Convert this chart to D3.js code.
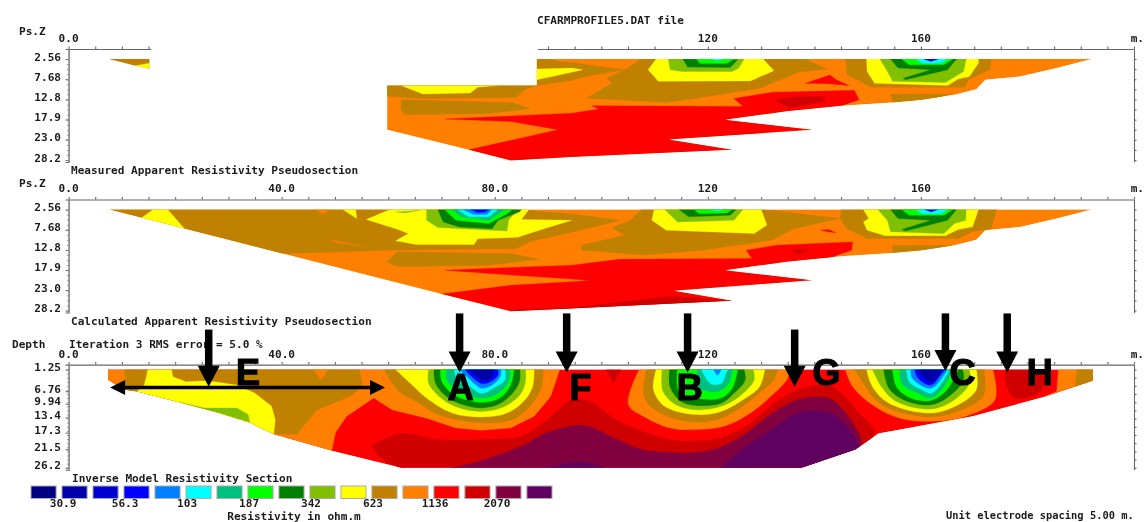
<!DOCTYPE html>
<html><head><meta charset="utf-8">
<style>html,body{margin:0;background:#fff}svg{display:block;filter:blur(.45px)}
text{font-family:"DejaVu Sans Mono",monospace;font-weight:bold;font-size:11.1px;fill:#1c1c1c}
.big{font-family:"Liberation Sans",Arial,sans-serif;font-size:36px;fill:#000;stroke:#000;stroke-width:1.2}</style>
<script src="https://cdn.jsdelivr.net/npm/d3@7"></script></head><body><svg id="c" width="1144" height="522"></svg>
<script>
// Resistivity bands (colour index = position in this list)
const bandColors=["#000080","#0000a8","#0000d0","#0000ff","#0080ff","#00ffff","#00c080","#00ff00","#008000","#80c000","#ffff00","#c08000","#ff8000","#ff0000","#d00000","#800040","#600060"];
const NAVY=1,BLUE=3,SKY=4,CYAN=5,TEAL=6,LIME=7,GREEN=8,OLIVE=9,YELLOW=10,BROWN=11,ORANGE=12,RED=13,DKRED=14,MAROON=15,PURPLE=16;
const legendLabels=["30.9","56.3","103","187","342","623","1136","2070"];
const xTickLabels=[[0,"0.0"],[40,"40.0"],[80,"80.0"],[120,"120"],[160,"160"],[200,"m."]];
const pseudoDepths=[2.56,7.68,12.8,17.9,23.0,28.2];
const pseudoDepthLabels=["2.56","7.68","12.8","17.9","23.0","28.2"];
const modelDepths=[1.25,6.76,9.94,13.4,17.3,21.5,26.2];
const modelDepthLabels=["1.25","6.76","9.94","13.4","17.3","21.5","26.2"];

// Measured pseudosection: contours as [distance m, pseudo depth]
const m1Stub=[[7.5,2.56],[15.2,2.56],[15.2,5.1],[12.5,4.25]];
const m1StubYellow=[[12.5,4.25],[15.2,3.6],[15.2,5.1]];
const m1Outline=[[59.8,9.3],[87.9,9.3],[87.9,2.56],[192,2.56],[185.5,4.85],[178.6,7],[172.1,7.8],[170.4,10.2],[166.3,11.6],[160.2,12.9],[154.7,13.6],[145.1,14.4],[134.8,15.8],[123.2,18],[139.6,20.5],[112.6,23],[124.6,25.6],[94.45,27.4],[83,28.3],[75.1,25.6],[59.8,20.5]];
const m1BrownTop=[[87.9,2.56],[90.5,2.56],[91.9,3.2],[94.45,3.4],[104.4,5.3],[96.5,7.2],[94.45,8],[87.9,9.3],[85.7,10.3],[84,12.3],[66.5,12.6],[59.8,12],[59.8,9.3]];
const m1YellowLeft=[[62.4,9.3],[66.5,11.4],[75.4,11.2],[76.8,9.7],[80.6,9.3]];
const m1YellowTip=[[87.9,5.1],[94.45,4.85],[96.5,5.3],[94.45,5.9],[87.9,7.8]];
const m1BrownLow=[[62.4,12.9],[62.4,15.4],[63.1,16.7],[78.9,16.4],[86.7,15.2],[83.3,13.6]];
const m1BrownB=[[107.5,2.56],[138.3,2.56],[142.4,5.1],[136.9,5.9],[130,9.9],[118.1,12.5],[112.2,13.6],[102.7,12.9],[97.2,12.5],[102,8.7],[101,7.4],[104.4,5.3]];
const m1YellowB=[[110.3,2.56],[108.8,5.3],[110.7,8.2],[128,8.1],[132.4,5.5],[130.4,2.56]];
const m1OliveB=[[112.6,2.56],[112.9,5.3],[115,5.7],[124.6,5.7],[125.8,4.8],[126.8,2.56]];
const m1GreenB=[[115.3,2.56],[116.2,4.6],[124.2,4.7],[125.6,2.7]];
const m1LimeB=[[117.9,2.56],[118.5,3.7],[123.5,3.7],[124.9,2.56]];
const m1CyanB=[[120.8,2.56],[121.8,3],[122.8,2.56]];
const m1RedSpot=[[138.3,8.7],[142.9,6.6],[144.1,7.8],[146.5,9.3],[142.4,8.8]];
const m1BrownC=[[145.8,2.56],[173.2,2.56],[173,5.3],[169.1,7.6],[168.2,9.7],[150.6,9.7],[146.1,6.5]];
const m1YellowC=[[149.8,2.56],[149.9,5.7],[151.3,8.7],[165,9.3],[167,7.6],[169.1,7],[170.8,3.6],[170.8,2.56]];
const m1OliveC=[[152.3,2.56],[153.7,5.7],[154.7,8.2],[164.6,8.5],[168,5.7],[168.5,2.56]];
const m1GreenC=[[154.3,2.56],[155.7,4.8],[161.9,5.3],[156.7,7.4],[157.1,7.8],[165,5.3],[166.7,2.56]];
const m1LimeC=[[156.4,2.56],[157.8,4],[164.3,4],[166,2.56]];
const m1CyanC=[[159.1,2.56],[160.2,3.6],[163.9,3.6],[165,2.56]];
const m1BlueC=[[160.5,2.56],[161.9,3.15],[163.2,2.56]];
const m1BrownEnd=[[154.3,11.4],[165.6,11.4],[161.9,12.9],[154.7,13.6]];
const m1Red=[[70.6,17.8],[94.45,16.3],[99.6,15.25],[98.2,14.4],[126.6,14.6],[124.9,12.6],[132.1,11],[147.5,10.5],[148.4,12.9],[145.1,14.4],[134.8,15.8],[123.2,18],[139.6,20.5],[112.6,23],[124.6,25.6],[94.45,27.4],[83,28.3],[75.1,25.6],[91.9,20.5],[83,18.4]];
const m1DkRed=[[132.4,12.9],[135.5,15],[142,13.3],[141.7,12],[135.5,12.3]];
const measuredLayers=[[ORANGE,m1Outline],[BROWN,m1BrownTop],[YELLOW,m1YellowLeft],[YELLOW,m1YellowTip],[BROWN,m1BrownLow],[BROWN,m1BrownB],[YELLOW,m1YellowB],[OLIVE,m1OliveB],[GREEN,m1GreenB],[LIME,m1LimeB],[CYAN,m1CyanB],[RED,m1RedSpot],[BROWN,m1BrownC],[YELLOW,m1YellowC],[OLIVE,m1OliveC],[GREEN,m1GreenC],[LIME,m1LimeC],[CYAN,m1CyanC],[BLUE,m1BlueC],[BROWN,m1BrownEnd],[RED,m1Red],[DKRED,m1DkRed]];

// Calculated pseudosection
const c2Outline=[[7.7,2.56],[192,2.56],[185.5,4.85],[178.6,7],[172.1,7.8],[170.4,10.2],[166.3,11.6],[160.2,12.9],[154.7,13.6],[145.1,14.4],[134.8,15.8],[123.2,18],[139.6,20.5],[113.6,23.2],[124.6,25.7],[94.45,27.7],[83,28.4],[70,24]];
const c2Brown=[[7.7,2.56],[85,2.56],[89,3.1],[94.45,3.6],[103.7,5.3],[94.45,8.3],[86.4,10.8],[84,12.5],[60,12.9],[44.6,13.6],[39.8,13.7]];
const c2YellowEdge=[[13.5,4.85],[15.9,2.56],[18.6,2.56],[22,7.8]];
const c2YellowTick=[[51.5,2.56],[53.9,2.56],[54.1,4.85]];
const c2OrangeA=[[46.3,2.56],[47.7,3.6],[49.1,2.56]];
const c2OrangeB=[[49.4,10.3],[55.6,11.9],[49.8,10.8]];
const c2YellowA=[[60,2.7],[61,2.56],[86.4,2.56],[85,5.1],[94.45,5.3],[89.1,7.5],[84.3,9.6],[76.8,10],[76.1,11.4],[65.2,11.4],[61.4,10.5],[63.8,8.65],[61.4,7.4],[55.9,5.1]];
const c2OliveSpeck=[[61.4,3.15],[63.1,3.4],[65.9,2.7]];
const c2OliveA=[[67.2,2.56],[67.2,5.3],[69.3,7.1],[82.3,8],[82.6,5.3],[84.3,2.56]];
const c2GreenA=[[69.3,2.56],[70.3,5.7],[73.4,7],[79.5,7.4],[80.6,5.3],[84.7,3.1],[85,2.56]];
const c2LimeA=[[70.6,2.56],[72.7,5.3],[78.9,6.1],[82.3,3.6],[83.3,2.56]];
const c2TealA=[[72,2.56],[73.7,4.4],[78.9,5.3],[81.9,2.56]];
const c2CyanA=[[73,2.56],[75.1,4.4],[78.9,4.4],[80.6,2.56]];
const c2SkyA=[[74,2.56],[76.1,3.8],[78.5,3.8],[79.5,2.56]];
const c2BlueA=[[75.4,2.56],[76.8,3.3],[78.2,3.15],[78.9,2.56]];
const c2BrownLow=[[59.7,15.8],[61.7,13.3],[83,13.7],[88.4,15.2],[78.9,16.7],[61.7,17.1]];
const c2BrownB=[[107.5,2.56],[130.4,2.56],[136.2,3.4],[144.8,4.85],[136.2,7.4],[132.1,10.3],[119.1,12.9],[108.1,14.1],[96.2,12.9],[96.2,11.6],[104.4,9.1],[102,7.2],[105.4,5.3]];
const c2YellowB=[[109.9,2.56],[109.5,5.3],[112.2,7.8],[128.7,8.65],[131.1,6.5],[130,2.56]];
const c2OliveB=[[111.9,2.56],[114.3,5.7],[124.9,5.3],[126.6,2.56]];
const c2GreenB=[[114.6,2.56],[116.4,4.4],[124.2,4],[125.3,2.56]];
const c2LimeB=[[117.4,2.56],[118.4,3.6],[123.5,3.4],[124.6,2.56]];
const c2CyanB=[[120.5,2.56],[121.8,2.9],[122.9,2.56]];
const c2BrownC=[[145.1,2.56],[174.2,2.56],[173.2,7.4],[169.7,8.2],[167,9.9],[149.9,9.9],[146.1,7.4],[144.8,4.85]];
const c2YellowC=[[149.2,2.56],[150.2,4.85],[149.2,5.7],[149.9,7.8],[153.3,9.2],[164.6,9.2],[167,7.6],[169.7,6.95],[170.8,2.56]];
const c2OliveC=[[151.9,2.56],[153.7,5.3],[154.3,8.2],[164.3,8.65],[166.3,6.1],[168.4,5.3],[168.5,2.56]];
const c2GreenC=[[154.3,2.56],[155.7,4.85],[161.9,5.3],[156.4,7.6],[157.1,8],[165,5.3],[166.7,2.56]];
const c2LimeC=[[156.4,2.56],[157.8,4],[164.3,4],[166,2.56]];
const c2CyanC=[[159.1,2.56],[160.2,3.6],[163.9,3.6],[165,2.56]];
const c2BlueC=[[160.7,2.56],[161.9,3.15],[163.2,2.56]];
const c2BrownEnd=[[154.7,11.6],[166,11.6],[162,12.8],[154.7,13.6]];
const c2Red=[[70.6,17.95],[94.45,16.7],[103.3,15.2],[128.3,15],[127.2,12.9],[132.8,11.6],[147.2,10.8],[147,12.9],[143.1,14.7],[134.8,15.8],[123.2,18],[139.6,20.5],[113.6,23.2],[124.6,25.7],[94.45,27.7],[83,28.4],[70,24],[83,21.8],[94.45,20.9],[97.7,20.6],[94.45,20.2],[83,19.2]];
const c2DkRedLow=[[94.45,27.5],[112.9,24.6],[124.6,25.7],[94.45,27.7],[83,28.4],[84.3,28]];
const c2RedSpot=[[141.2,7.8],[142.7,7.6],[144.1,8.5],[141.7,8]];
const c2DkRedSpot=[[135.5,12.9],[136.9,13.9],[139.3,12.6]];
const calculatedLayers=[[ORANGE,c2Outline],[BROWN,c2Brown],[YELLOW,c2YellowEdge],[YELLOW,c2YellowTick],[ORANGE,c2OrangeA],[ORANGE,c2OrangeB],[YELLOW,c2YellowA],[OLIVE,c2OliveSpeck],[OLIVE,c2OliveA],[GREEN,c2GreenA],[LIME,c2LimeA],[TEAL,c2TealA],[CYAN,c2CyanA],[SKY,c2SkyA],[BLUE,c2BlueA],[BROWN,c2BrownLow],[BROWN,c2BrownB],[YELLOW,c2YellowB],[OLIVE,c2OliveB],[GREEN,c2GreenB],[LIME,c2LimeB],[CYAN,c2CyanB],[BROWN,c2BrownC],[YELLOW,c2YellowC],[OLIVE,c2OliveC],[GREEN,c2GreenC],[LIME,c2LimeC],[CYAN,c2CyanC],[BLUE,c2BlueC],[BROWN,c2BrownEnd],[RED,c2Red],[DKRED,c2DkRedLow],[RED,c2RedSpot],[DKRED,c2DkRedSpot]];

// Inverse model section: contours as [distance m, depth m]
const s3Outline=[[7.4,1.25],[192.3,1.25],[192.3,4.1],[183.4,8.1],[169.7,13.1],[152,17.5],[147.8,21.5],[137.6,26.2],[62.4,26.2],[49.4,21.9],[38.5,17.7],[34,14.8],[28.2,12.3],[21.4,9.8],[12.8,6.85],[10.4,6.4],[7.4,3.9]];
const s3OrangeA=[[7.4,1.25],[92.2,1.25],[90.5,8.1],[87.4,13.1],[83,16.1],[77.5,16.7],[72.7,16.1],[67.2,13.6],[60.7,11.5],[57.3,8.5],[52.2,13.1],[50.1,17.3],[49.4,21.9],[38.5,17.7],[34,14.8],[28.2,12.3],[21.4,9.8],[12.8,6.85],[10.4,6.4],[7.4,3.9]];
const s3BrownLeft=[[10.4,1.25],[54.6,1.25],[55.2,5.6],[52.8,8.1],[46.7,11.5],[44.6,14.8],[42.9,17.7],[38.5,17.7],[34,14.8],[28.2,12.3],[21.4,9.8],[12.8,6.85],[10.4,6.4],[9,5],[10.7,3.9]];
const s3YellowLeft=[[14.9,1.25],[19.3,1.25],[19.6,3.1],[22,4.35],[26.1,4.1],[31.6,5.2],[35,7.3],[38.1,10.6],[38.8,14],[38.5,17.7],[34,14.8],[28.2,12.3],[21.4,9.8],[12.8,6.85],[14.2,5.2]];
const s3OliveLeft=[[21,9.6],[25.5,11],[31.6,11],[33.7,12.7],[34,14.6],[28.2,12.3]];
const s3OrangeTri=[[46,1.25],[47.4,3.9],[48.7,1.25]];
const s3DkRed=[[57,20.7],[62.1,17.5],[69.3,19],[77.5,19],[85,18.2],[89.8,14],[94.45,9],[97.9,9.4],[102.3,13.6],[106.8,16.5],[112.6,19],[117.7,19.4],[122.5,18.6],[127.3,15.6],[132.1,10.2],[136.9,6.4],[142.4,5.2],[145.1,7.3],[147.8,11.5],[151.3,17.3],[147.8,21.5],[137.6,26.2],[62.4,26.2],[58,23]];
const s3DkRedF=[[100.95,1.25],[102.3,4.8],[103.7,1.25]];
const s3Maroon=[[72,26.2],[77.5,24.4],[85,20.7],[89.8,17.3],[94.45,15.6],[97.5,15.6],[102.3,18.6],[107.5,21.5],[112.6,22.3],[117.7,22.3],[122.2,21.1],[127.3,17.3],[132.1,12.3],[136.9,8.9],[142.4,8.4],[145.1,11],[148.9,19.8],[147.8,21.5],[137.6,26.2]];
const s3Purple=[[122.5,26.2],[127.3,20.7],[132.1,16.5],[136.9,12.3],[142.4,12.1],[145.8,15.2],[148.2,20.2],[147.8,21.5],[137.6,26.2]];
const s3PurpleLow=[[89.8,26.2],[94.45,24.85],[97.2,24.85],[100.6,26.2]];
const s3BrownA=[[59.3,1.25],[61.7,6.4],[65.8,9.8],[69.3,12.7],[77.5,14.8],[83.6,13.8],[87.1,9.8],[88.8,5.6],[89.1,1.25]];
const s3YellowA=[[61.4,1.25],[64.5,5.2],[67.2,8.5],[72,12.3],[77.5,13.3],[82.3,12.3],[85.7,8.9],[87.1,5.6],[87.4,1.25]];
const s3OliveA=[[67.6,1.25],[67.6,4.8],[70.3,8.9],[73.4,11],[77.5,11.9],[81.6,10.8],[84.7,7.7],[85.7,4.8],[85.8,1.25]];
const s3GreenA=[[68.6,1.25],[68.9,4.8],[71.3,8.5],[74.1,10.2],[77.5,11],[80.9,9.95],[83.6,6.85],[84.7,3.9],[84.7,1.25]];
const s3LimeA=[[69.8,1.25],[70.1,4.35],[72.4,7.7],[77.5,9.6],[80.9,8.5],[83,5.2],[83.6,1.25]];
const s3TealA=[[71,1.25],[71,3.9],[73.4,6.85],[77.5,8.5],[80.6,7.3],[82.6,4.35],[82.8,1.25]];
const s3CyanA=[[72.4,1.25],[73,3.9],[75.4,5.6],[77.5,7.3],[80.2,5.6],[81.9,3.9],[81.9,1.25]];
const s3SkyA=[[73.4,1.25],[74.8,3.1],[77.5,6],[79.5,5.2],[81,3.1],[81.2,1.25]];
const s3BlueA=[[74.4,1.25],[75.4,2.7],[77.5,4.8],[79.2,4.35],[80.6,2.7],[80.6,1.25]];
const s3NavyA=[[75.1,1.25],[76.1,2.25],[77.5,3.9],[79.2,3.5],[79.9,1.25]];
const s3OrangeB=[[107.1,1.25],[105.1,10.2],[108.1,13.3],[112.9,16.1],[117.7,16.5],[123.2,15.6],[128,12.3],[132.1,7.7],[134.8,3.9],[135.5,1.25]];
const s3BrownB=[[108.5,1.25],[108.1,8.5],[111.6,12.7],[117.7,14.6],[122.5,13.6],[126.6,10.6],[130,6.85],[132.4,3.9],[133.1,1.25]];
const s3YellowB=[[110.3,1.25],[109.8,6.4],[111.9,10.6],[117.7,12.7],[122.5,11.9],[126.6,8.9],[129.7,5.6],[130.7,1.25]];
const s3OliveB=[[111.4,1.25],[111.6,6.85],[114,10.2],[117.7,11.5],[122.5,10.6],[125.9,8.1],[128.7,3.9],[128.5,1.25]];
const s3GreenB=[[112.8,1.25],[112.9,5.6],[115,9.4],[117.7,10.4],[122.5,9.8],[124.9,7.3],[127,3.9],[126.8,1.25]];
const s3LimeB=[[114.3,1.25],[114.6,6.85],[117.7,8.5],[122.5,8.5],[124.6,6],[125.6,1.25]];
const s3TealB=[[118.1,1.25],[118.1,5.6],[121.8,6.85],[123.9,4.8],[124.6,1.25]];
const s3CyanB=[[118.8,1.25],[120.5,4.8],[122.5,4.8],[123.5,1.85],[123.9,1.25]];
const s3SkyB=[[121.1,1.25],[121.8,2.7],[122.5,1.25]];
const s3OrangeC=[[145.8,1.25],[147.2,5.6],[151.3,10.6],[156,13.6],[162.2,14.4],[168.4,13.1],[173.9,8.9],[173.5,1.25]];
const s3BrownC=[[147.5,1.25],[149.2,4.8],[152.6,10.2],[161.5,13.3],[167.7,11.5],[171.8,7.7],[171.8,1.25]];
const s3YellowC=[[149.8,1.25],[150.9,5.6],[154,9.8],[161.9,12.3],[167,10.2],[170.4,6.4],[170.4,1.25]];
const s3OliveC=[[150.9,1.25],[152.6,5.6],[155.4,9.4],[161.9,11.3],[166.3,8.9],[169.1,4.8],[169.1,1.25]];
const s3GreenC=[[153,1.25],[154,6],[156.7,8.9],[161.9,10.2],[165.6,7.7],[168,3.9],[167.8,1.25]];
const s3LimeC=[[154.7,1.25],[155.4,5.6],[158.1,8.5],[161.9,9.1],[164.9,6.4],[167,1.25]];
const s3TealC=[[156.1,1.25],[156.4,4.8],[159.5,7.3],[161.9,8.5],[164.3,5.6],[166,1.25]];
const s3CyanC=[[157.3,1.25],[157.8,4.35],[160.2,6.4],[161.9,7.3],[164.3,3.9],[165.3,1.25]];
const s3SkyC=[[158.1,1.25],[158.4,3.5],[161.9,6],[164.3,2.7],[165,1.25]];
const s3BlueC=[[158.8,1.25],[159.5,3.5],[161.9,5.2],[163.9,2.25],[164.6,1.25]];
const s3NavyC=[[159.5,1.25],[160.2,2.7],[161.9,4.35],[163.6,2.25],[164.1,1.25]];
const s3DkRedH=[[175.9,1.25],[175.8,3.9],[177.6,8.5],[182.4,6.85],[183.1,3.9],[182.1,1.25]];
const s3OrangeEnd=[[185.8,1.25],[185.5,6.85],[183.4,8],[192.3,4.1],[192.3,1.25]];
const s3BrownEnd=[[189.3,1.25],[188.9,5.6],[192.3,4.1],[192.3,1.25]];
const sectionLayers=[[RED,s3Outline],[ORANGE,s3OrangeA],[BROWN,s3BrownLeft],[YELLOW,s3YellowLeft],[OLIVE,s3OliveLeft],[ORANGE,s3OrangeTri],[DKRED,s3DkRed,1],[DKRED,s3DkRedF],[MAROON,s3Maroon,1],[PURPLE,s3Purple,1],[PURPLE,s3PurpleLow],
[BROWN,s3BrownA,1],[YELLOW,s3YellowA,1],[OLIVE,s3OliveA,1],[GREEN,s3GreenA,1],[LIME,s3LimeA,1],[TEAL,s3TealA,1],[CYAN,s3CyanA,1],[SKY,s3SkyA,1],[BLUE,s3BlueA,1],[NAVY,s3NavyA,1],
[ORANGE,s3OrangeB,1],[BROWN,s3BrownB,1],[YELLOW,s3YellowB,1],[OLIVE,s3OliveB,1],[GREEN,s3GreenB,1],[LIME,s3LimeB,1],[TEAL,s3TealB,1],[CYAN,s3CyanB,1],[SKY,s3SkyB,1],
[ORANGE,s3OrangeC,1],[BROWN,s3BrownC,1],[YELLOW,s3YellowC,1],[OLIVE,s3OliveC,1],[GREEN,s3GreenC,1],[LIME,s3LimeC,1],[TEAL,s3TealC,1],[CYAN,s3CyanC,1],[SKY,s3SkyC,1],[BLUE,s3BlueC,1],[NAVY,s3NavyC,1],
[DKRED,s3DkRedH,1],[ORANGE,s3OrangeEnd],[BROWN,s3BrownEnd]];

// Annotations on the model section: distance m, arrow top and tip depth
const arrowPositions=[26.3,73.4,93.5,116.2,136.3,164.6,176.2];
const arrowTops=[-8.9,-13,-13,-13,-8.9,-13,-13];
const arrowTips=[5.6,2,2,2,5.6,1.6,2];
const spanArrow=[7.8,59.4,5.8];
const annotationLetters=["E","A","F","B","G","C","H"];
const letterX=[33.7,73.6,96.1,116.6,142.3,167.8,182.3];
const letterZ=[2,5.8,5.8,5.8,2,2,2];

const svg=d3.select("#c");
const x=d3.scaleLinear([0,200],[68.6,1134]);
const yMeasured=d3.scaleLinear([0,28.7],[49,162]);
const yCalc=d3.scaleLinear([0,28.7],[199.5,312.5]);
const yModel=d3.scaleLinear([0,26.7],[364.6,469.7]);
const legendScale=d3.scaleBand(d3.range(bandColors.length),[28,549]).paddingInner(.19);

function text(s,px,py,anchor){return svg.append("text").attr("x",px).attr("y",py).attr("text-anchor",anchor||"start").text(s);}
function axisX(yp,segments,labels,ly){
  segments.forEach(([a,b])=>{
    const sub=x.copy().domain([a,b]).range([x(a),x(b)]);
    const g=svg.append("g").attr("transform",`translate(0,${yp})`)
      .call(d3.axisTop(sub).tickValues(d3.range(Math.ceil(a/5)*5,b+.1,5)).tickSize(2.5).tickSizeOuter(0).tickFormat(""));
    g.selectAll("path,line").attr("stroke","#666").attr("stroke-width",1.1);
  });
  labels.forEach(([v,s])=>s=="m."?text(s,1144,ly,"end"):text(s,x(v),ly,"middle"));
}
function axisY(y,depths,labels,ly){
  const major=y.copy();
  const vals=d3.range(0,y.domain()[1],(depths[depths.length-1]-depths[0])/(depths.length-1)/4).map(d=>depths[0]+d).filter(v=>v<=y.domain()[1]);
  const g=svg.append("g").attr("transform",`translate(${x(0)},0)`)
    .call(d3.axisLeft(major).tickValues(depths).tickSize(3).tickFormat(""));
  g.selectAll("path,line").attr("stroke","#666").attr("stroke-width",1.1);
  const gm=svg.append("g").attr("transform",`translate(${x(0)},0)`)
    .call(d3.axisLeft(major).tickValues(vals).tickSize(1.5).tickSizeOuter(0).tickFormat(""));
  gm.selectAll("path,line").attr("stroke","#888");
  const gr=svg.append("g").attr("transform",`translate(${x(200)},0)`)
    .call(d3.axisRight(major).tickValues(vals.filter((v,i)=>i%2==0)).tickSize(2.5).tickSizeOuter(0).tickFormat(""));
  gr.selectAll("path,line").attr("stroke","#666").attr("stroke-width",1.1);
  depths.forEach((d,i)=>text(labels[i],61,ly(d),"end"));
}
function poly(y,smooth){const l=d3.line().x(d=>x(d[0])).y(d=>y(d[1]));return smooth?l.curve(d3.curveCatmullRom.alpha(.5)):l}
function section(id,y,layers,outlines){
  const cp=svg.append("clipPath").attr("id",id);
  outlines.forEach(o=>cp.append("path").attr("d",poly(y)(o)+"Z"));
  svg.append("g").attr("clip-path",`url(#${id})`).selectAll("path").data(layers).join("path")
    .attr("d",d=>poly(y,d[2])(d[1])+"Z").attr("fill",d=>bandColors[d[0]]).attr("stroke",d=>bandColors[d[0]]).attr("stroke-width",.3);
}
section("s1",yMeasured,measuredLayers.concat([[BROWN,m1Stub],[YELLOW,m1StubYellow]]),[m1Outline,m1Stub]);
section("s2",yCalc,calculatedLayers,[c2Outline]);
section("s3",yModel,sectionLayers,[s3Outline]);

axisX(yMeasured(0),[[0,15.4],[88,200]],xTickLabels.filter(d=>d[0]==0||d[0]>=120),42);
axisX(yCalc(0),[[0,200]],xTickLabels,192);
axisX(yModel(0),[[0,200]],xTickLabels,358);
axisY(yMeasured,pseudoDepths,pseudoDepthLabels,d=>yMeasured(d)+1.5);
axisY(yCalc,pseudoDepths,pseudoDepthLabels,d=>yCalc(d)+1.5);
axisY(yModel,modelDepths,modelDepthLabels,d=>yModel(d)+1.5);

text("CFARMPROFILE5.DAT file",537,24);
text("Ps.Z",19,35);
text("Measured Apparent Resistivity Pseudosection",71,174);
text("Ps.Z",19,187);
text("Calculated Apparent Resistivity Pseudosection",71,325);
text("Depth",12,348);
text("Iteration 3 RMS error = 5.0 %",69,347.5);
text("Inverse Model Resistivity Section",72,482);
text("Resistivity in ohm.m",294,520,"middle");
text("Unit electrode spacing 5.00 m.",946,518.5).style("font-size","10.4px");

svg.append("g").selectAll("rect").data(bandColors).join("rect")
  .attr("x",(d,i)=>legendScale(i)+3).attr("y",486).attr("width",legendScale.bandwidth()).attr("height",12.5)
  .attr("fill",d=>d).attr("stroke","#aaa").attr("stroke-width",1);
legendLabels.forEach((s,i)=>text(s,legendScale(2*i)+legendScale.bandwidth()+10,507,"middle"));

// arrows
const ann=svg.append("g");
arrowPositions.forEach((m,i)=>{
  const px=x(m),t=yModel(arrowTops[i]),tip=yModel(arrowTips[i]);
  ann.append("line").attr("x1",px).attr("x2",px).attr("y1",t).attr("y2",tip-15).attr("stroke","#000").attr("stroke-width",7.5);
  ann.append("path").attr("d",d3.line()([[px-11,tip-21],[px+11,tip-21],[px,tip]])+"Z").attr("fill","#000");
});
const ay=yModel(spanArrow[2]),ax0=x(spanArrow[0]),ax1=x(spanArrow[1]);
ann.append("line").attr("x1",ax0+8).attr("x2",ax1-8).attr("y1",ay).attr("y2",ay).attr("stroke","#000").attr("stroke-width",3.6);
ann.append("path").attr("d",d3.line()([[ax0,ay],[ax0+15,ay-7.5],[ax0+15,ay+7.5]])+"Z").attr("fill","#000");
ann.append("path").attr("d",d3.line()([[ax1,ay],[ax1-15,ay-7.5],[ax1-15,ay+7.5]])+"Z").attr("fill","#000");
annotationLetters.forEach((s,i)=>ann.append("text").attr("class","big").attr("x",x(letterX[i])).attr("y",yModel(letterZ[i])+13).attr("text-anchor","middle").text(s));
</script></body></html>
